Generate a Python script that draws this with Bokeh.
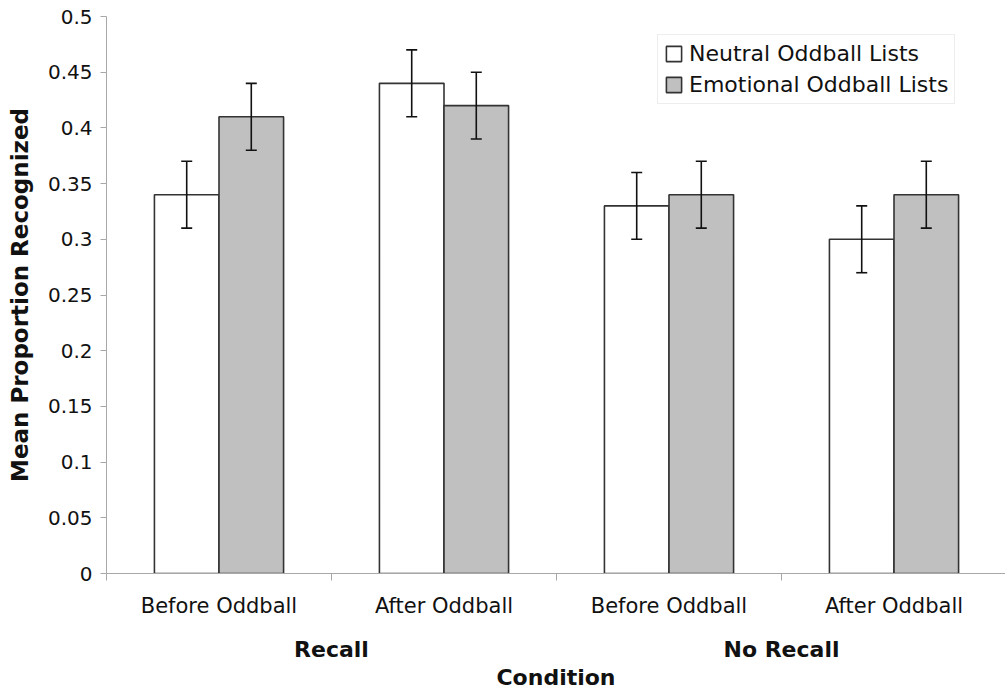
from bokeh.plotting import figure
from bokeh.models import (Range1d, FixedTicker, LinearAxis, Whisker, TeeHead,
                          ColumnDataSource, Legend, LegendItem, NumeralTickFormatter)
from bokeh.embed import file_html
from bokeh.resources import INLINE

# ---- data ----
conditions = ["Before Oddball", "After Oddball", "Before Oddball", "After Oddball"]
groups = ["Recall", "No Recall"]
neutral = [0.34, 0.44, 0.33, 0.30]
emotional = [0.41, 0.42, 0.34, 0.34]
neutral_err = [0.03, 0.03, 0.03, 0.03]
emotional_err = [0.03, 0.03, 0.03, 0.03]
y_ticks = [0, 0.05, 0.1, 0.15, 0.2, 0.25, 0.3, 0.35, 0.4, 0.45, 0.5]
series_names = ["Neutral Oddball Lists", "Emotional Oddball Lists"]

FONT = "DejaVu Sans"
BAR_W = 0.287
n = len(conditions)
centers = [i + 0.5 for i in range(n)]

W, H = 1005, 692
LEFT, TOP, BOTTOM = 106, 16, 117
CAT_PX = 225

src_n = ColumnDataSource(dict(
    x=[c - BAR_W / 2 for c in centers], top=neutral,
    upper=[v + e for v, e in zip(neutral, neutral_err)],
    lower=[v - e for v, e in zip(neutral, neutral_err)]))
src_e = ColumnDataSource(dict(
    x=[c + BAR_W / 2 for c in centers], top=emotional,
    upper=[v + e for v, e in zip(emotional, emotional_err)],
    lower=[v - e for v, e in zip(emotional, emotional_err)]))

p = figure(width=W, height=H, output_backend="svg", toolbar_location=None,
           x_range=Range1d(0, (W - LEFT) / CAT_PX), y_range=Range1d(0, 0.5),
           min_border_left=LEFT, min_border_right=0, min_border_top=TOP,
           min_border_bottom=BOTTOM, x_axis_type=None)
p.outline_line_color = None
p.xgrid.visible = False
p.ygrid.visible = False
p.background_fill_color = "white"
p.border_fill_color = "white"

r_n = p.vbar(x="x", top="top", width=BAR_W, bottom=0, source=src_n,
             fill_color="white", line_color="#333333", line_width=1.6)
r_e = p.vbar(x="x", top="top", width=BAR_W, bottom=0, source=src_e,
             fill_color="#c0c0c0", line_color="#333333", line_width=1.6)

for src in (src_n, src_e):
    w = Whisker(base="x", upper="upper", lower="lower", source=src,
                dimension="height", line_color="#111111", line_width=1.6,
                level="overlay",
                upper_head=TeeHead(size=11, line_color="#111111", line_width=1.6),
                lower_head=TeeHead(size=11, line_color="#111111", line_width=1.6))
    p.add_layout(w)

# y axis
ya = p.yaxis[0]
ya.ticker = FixedTicker(ticks=y_ticks)
ya.formatter = NumeralTickFormatter(format="0.[00]")
ya.axis_line_color = "#a8a8a8"
ya.major_tick_line_color = "#a8a8a8"
ya.major_tick_out = 6
ya.major_tick_in = 0
ya.minor_tick_line_color = None
ya.major_label_text_font = FONT
ya.major_label_text_font_size = "20px"
ya.major_label_text_color = "#111111"
ya.major_label_standoff = 8
ya.axis_label = "Mean Proportion Recognized"
ya.axis_label_text_font = FONT
ya.axis_label_text_font_style = "bold"
ya.axis_label_text_font_size = "23px"
ya.axis_label_text_color = "#111111"
ya.axis_label_standoff = 12

# x axis: category labels at centers, boundary ticks as minor ticks
xa = LinearAxis(ticker=FixedTicker(ticks=centers, minor_ticks=list(range(n + 1))),
                major_label_overrides={c: lab for c, lab in zip(centers, conditions)})
xa.axis_line_color = "#a8a8a8"
xa.major_tick_line_color = None
xa.major_tick_out = 0
xa.major_tick_in = 0
xa.minor_tick_line_color = "#a8a8a8"
xa.minor_tick_out = 7
xa.minor_tick_in = 0
xa.major_label_text_font = FONT
xa.major_label_text_font_size = "21px"
xa.major_label_text_color = "#111111"
xa.major_label_standoff = 13
p.add_layout(xa, "below")

group_centers = [1.0, 3.0]
ga = LinearAxis(ticker=FixedTicker(ticks=group_centers, minor_ticks=[]),
                major_label_overrides={c: g for c, g in zip(group_centers, groups)})
ga.axis_line_color = None
ga.major_tick_line_color = None
ga.minor_tick_line_color = None
ga.major_tick_out = 0
ga.major_label_text_font = FONT
ga.major_label_text_font_style = "bold"
ga.major_label_text_font_size = "22px"
ga.major_label_text_color = "#111111"
ga.major_label_standoff = 16
ga.axis_label = "Condition"
ga.axis_label_text_font = FONT
ga.axis_label_text_font_style = "bold"
ga.axis_label_text_font_size = "22px"
ga.axis_label_text_color = "#111111"
ga.axis_label_standoff = 0
p.add_layout(ga, "below")

frame_h = H - TOP - BOTTOM
legend = Legend(items=[LegendItem(label=series_names[0], renderers=[r_n]),
                       LegendItem(label=series_names[1], renderers=[r_e])],
                location=(551, frame_h - 20 - 70))
legend.label_text_font = FONT
legend.label_text_font_size = "22px"
legend.label_text_color = "#111111"
legend.glyph_width = 19
legend.glyph_height = 19
legend.label_standoff = 6
legend.label_height = 19
legend.spacing = 6
legend.padding = 6
legend.margin = 0
legend.border_line_color = "#dcdcdc"
legend.border_line_width = 1
legend.background_fill_color = "white"
p.add_layout(legend)

open("out.html", "w").write(file_html(p, INLINE))
